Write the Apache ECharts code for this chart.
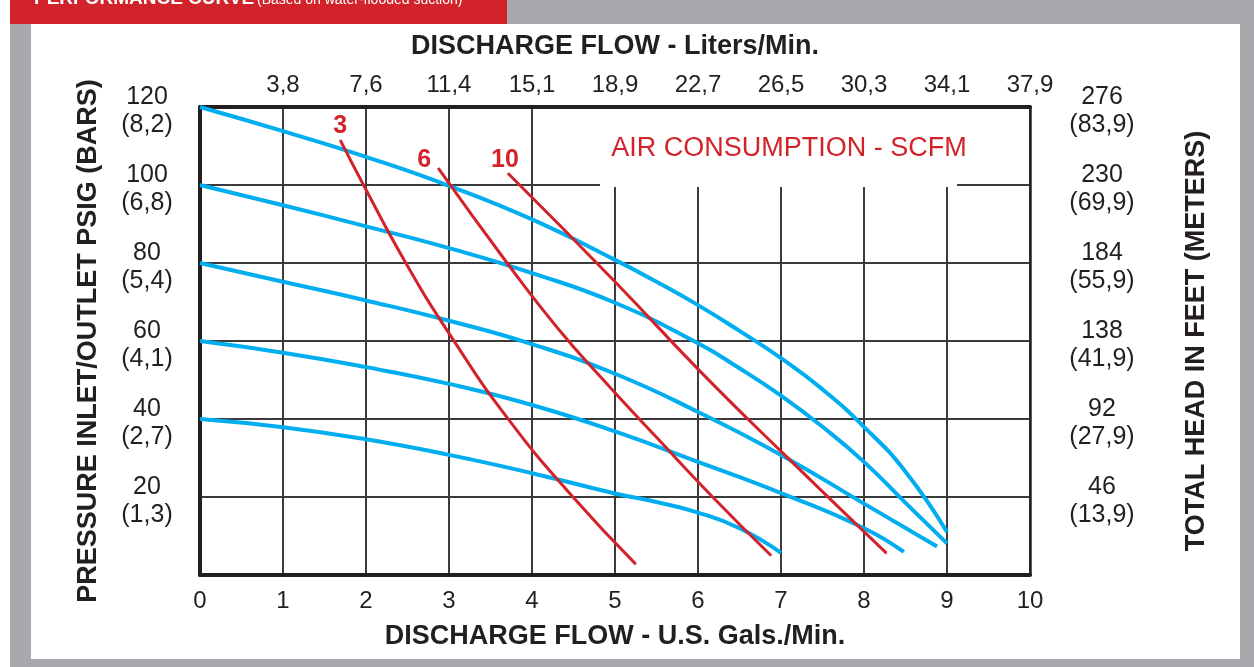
<!DOCTYPE html>
<html>
<head>
<meta charset="utf-8" />
<title>Performance curve</title>
<script src="https://cdn.jsdelivr.net/npm/echarts@6.0.0/dist/echarts.min.js"></script>
<style>
  html, body { margin: 0; padding: 0; background: #fff; }
  #main { width: 1254px; height: 667px; }
</style>
</head>
<body>
<div id="main"></div>
<script>
// axis labels
var literLabels = ["3,8", "7,6", "11,4", "15,1", "18,9", "22,7", "26,5", "30,3", "34,1", "37,9"];
var psiTicks = [20, 40, 60, 80, 100, 120];
var barLabels = ["1,3", "2,7", "4,1", "5,4", "6,8", "8,2"];
var feetLabels = ["46", "92", "138", "184", "230", "276"];
var meterLabels = ["13,9", "27,9", "41,9", "55,9", "69,9", "83,9"];

// pump curves, [US gpm, psi]
var curve120 = [[0, 120], [1, 113.8], [2, 107.2], [3, 99.8], [4, 91.2], [5, 80.8], [5.5, 75.2], [6, 69.2], [6.5, 62.6], [7, 55.6], [7.5, 47.6], [8, 38], [8.5, 26.5], [9, 11]];
var curve100 = [[0, 100], [1, 94.8], [2, 89.4], [3, 83.8], [4, 77.4], [5, 69.8], [6, 59.4], [6.5, 53], [7, 46], [7.5, 38], [8, 29], [8.5, 18.5], [9, 8.1]];
var curve80 = [[0, 80], [1, 75.2], [2, 70.4], [3, 65.2], [4, 59.2], [5, 51.6], [6, 41.8], [7, 30.8], [8, 18.3], [8.88, 7.3]];
var curve60 = [[0, 60], [1, 57], [2, 53.3], [3, 49], [4, 43.6], [5, 36.8], [6, 29], [7, 21], [8, 12], [8.48, 5.9]];
var curve40 = [[0, 40], [1, 37.9], [2, 34.8], [3, 30.8], [4, 26.1], [5, 20.9], [5.5, 18.7], [6, 16], [6.5, 12], [7, 5.7]];

// air consumption lines (SCFM), [US gpm, psi]
var scfm3 = [[1.69, 111.5], [1.97, 100], [2.48, 80], [3.03, 61], [3.71, 40.1], [4.48, 20.3], [5.25, 2.8]];
var scfm6 = [[2.87, 104.3], [3.7, 80], [4.32, 63], [4.86, 50], [5.5, 35.3], [6.2, 19.5], [6.88, 5]];
var scfm10 = [[3.71, 103], [5, 75.2], [6, 52.8], [7.01, 31.5], [8.27, 5.6]];

var ink = "#231f20";
var cyan = "#00aeef";
var red = "#d2232a";
var font = "Liberation Sans";

function pumpSeries(data) {
  return {
    type: "line", data: data, smooth: 0.5, showSymbol: false, silent: true,
    lineStyle: { color: cyan, width: 4 }, z: 3
  };
}
function airSeries(data, name, offset) {
  var pts = data.map(function (p, i) {
    if (i > 0) return p;
    return {
      value: p,
      label: {
        show: true, formatter: name, position: "top", distance: 4, offset: offset,
        color: red, fontFamily: font, fontWeight: "bold", fontSize: 25
      }
    };
  });
  return {
    type: "line", data: pts, smooth: 0.5, silent: true,
    showSymbol: true, showAllSymbol: true, symbol: "circle", symbolSize: 1,
    itemStyle: { color: red },
    lineStyle: { color: red, width: 3 }, z: 4
  };
}

var nameStyle = { fontFamily: font, fontWeight: "bold", fontSize: 27, color: ink };
var tickStyle = { fontFamily: font, fontSize: 24, color: ink };
// two-line side labels: first line sits above the grid line, second below
var sideRich = {
  t: { fontFamily: font, fontSize: 25, color: ink, lineHeight: 36 },
  b: { fontFamily: font, fontSize: 25, color: ink, lineHeight: 20 }
};

var option = {
  backgroundColor: "#fff",
  animation: false,
  grid: { left: 200, right: 224, top: 107, bottom: 92, outerBoundsMode: "none" },
  graphic: [
    { type: "rect", silent: true, z: -10, shape: { x: 10, y: 0, width: 1244, height: 667 }, style: { fill: "#a7a9ac" } },
    { type: "rect", silent: true, z: -9, shape: { x: 31, y: 24, width: 1209, height: 635 }, style: { fill: "#fff" } },
    { type: "rect", silent: true, z: -9, shape: { x: 10, y: 0, width: 497, height: 24 }, style: { fill: red } },
    { type: "text", silent: true, z: -8, x: 34, y: -1.5, style: { text: "PERFORMANCE CURVE", fill: "#fff", font: "bold 19px 'Liberation Sans'", verticalAlign: "middle" } },
    { type: "text", silent: true, z: -8, x: 257, y: 0, style: { text: "(Based on water-flooded suction)", fill: "#fff", font: "14px 'Liberation Sans'", verticalAlign: "middle" } },
    { type: "rect", silent: true, z: 10, shape: { x: 600, y: 109, width: 357, height: 78 }, style: { fill: "#fff" } },
    { type: "text", silent: true, z: 11, x: 789, y: 149, style: { text: "AIR CONSUMPTION - SCFM", fill: red, font: "27px 'Liberation Sans'", align: "center", verticalAlign: "middle" } }
  ],
  xAxis: [
    {
      type: "value", position: "bottom", min: 0, max: 10, interval: 1,
      name: "DISCHARGE FLOW - U.S. Gals./Min.", nameLocation: "middle", nameGap: 48,
      nameMoveOverlap: false, nameTextStyle: nameStyle,
      axisLine: { show: true, onZero: false, lineStyle: { color: ink, width: 4 } },
      axisTick: { show: false },
      axisLabel: Object.assign({ margin: 14, showMinLabel: true, showMaxLabel: true }, tickStyle),
      splitLine: { show: true, lineStyle: { color: "#3b3b3b", width: 2 } }
    },
    {
      type: "value", position: "top", min: 0, max: 10, interval: 1,
      name: "DISCHARGE FLOW - Liters/Min.", nameLocation: "middle", nameGap: 47,
      nameMoveOverlap: false, nameTextStyle: nameStyle,
      axisLine: { show: true, onZero: false, lineStyle: { color: ink, width: 4 } },
      axisTick: { show: false },
      axisLabel: Object.assign({
        margin: 10, showMinLabel: true, showMaxLabel: true,
        formatter: function (v) { return v > 0 ? literLabels[v - 1] : ""; }
      }, tickStyle),
      splitLine: { show: false }
    }
  ],
  yAxis: [
    {
      type: "value", position: "left", min: 0, max: 120, interval: 20,
      name: "PRESSURE INLET/OUTLET PSIG (BARS)", nameLocation: "middle", nameGap: 98,
      nameMoveOverlap: false, nameTextStyle: nameStyle,
      axisLine: { show: true, onZero: false, lineStyle: { color: ink, width: 4 } },
      axisTick: { show: false },
      axisLabel: {
        margin: 53, align: "center", showMaxLabel: true, rich: sideRich,
        formatter: function (v) {
          var i = psiTicks.indexOf(v);
          return i < 0 ? "" : "{t|" + v + "}\n{b|(" + barLabels[i] + ")}";
        }
      },
      splitLine: { show: true, lineStyle: { color: "#3b3b3b", width: 2 } }
    },
    {
      type: "value", position: "right", min: 0, max: 120, interval: 20,
      name: "TOTAL HEAD IN FEET (METERS)", nameLocation: "middle", nameGap: 153, nameRotate: 90,
      nameMoveOverlap: false, nameTextStyle: nameStyle,
      axisLine: { show: true, onZero: false, lineStyle: { color: ink, width: 2.5 } },
      axisTick: { show: false },
      axisLabel: {
        margin: 72, align: "center", showMaxLabel: true, rich: sideRich,
        formatter: function (v) {
          var i = psiTicks.indexOf(v);
          return i < 0 ? "" : "{t|" + feetLabels[i] + "}\n{b|(" + meterLabels[i] + ")}";
        }
      },
      splitLine: { show: false }
    }
  ],
  series: [
    pumpSeries(curve120),
    pumpSeries(curve100),
    pumpSeries(curve80),
    pumpSeries(curve60),
    pumpSeries(curve40),
    airSeries(scfm3, "3", [0, 3]),
    airSeries(scfm6, "6", [-14, 9]),
    airSeries(scfm10, "10", [-3, 4])
  ]
};

var myChart = echarts.init(document.getElementById("main"));
myChart.setOption(option);
</script>
</body>
</html>
